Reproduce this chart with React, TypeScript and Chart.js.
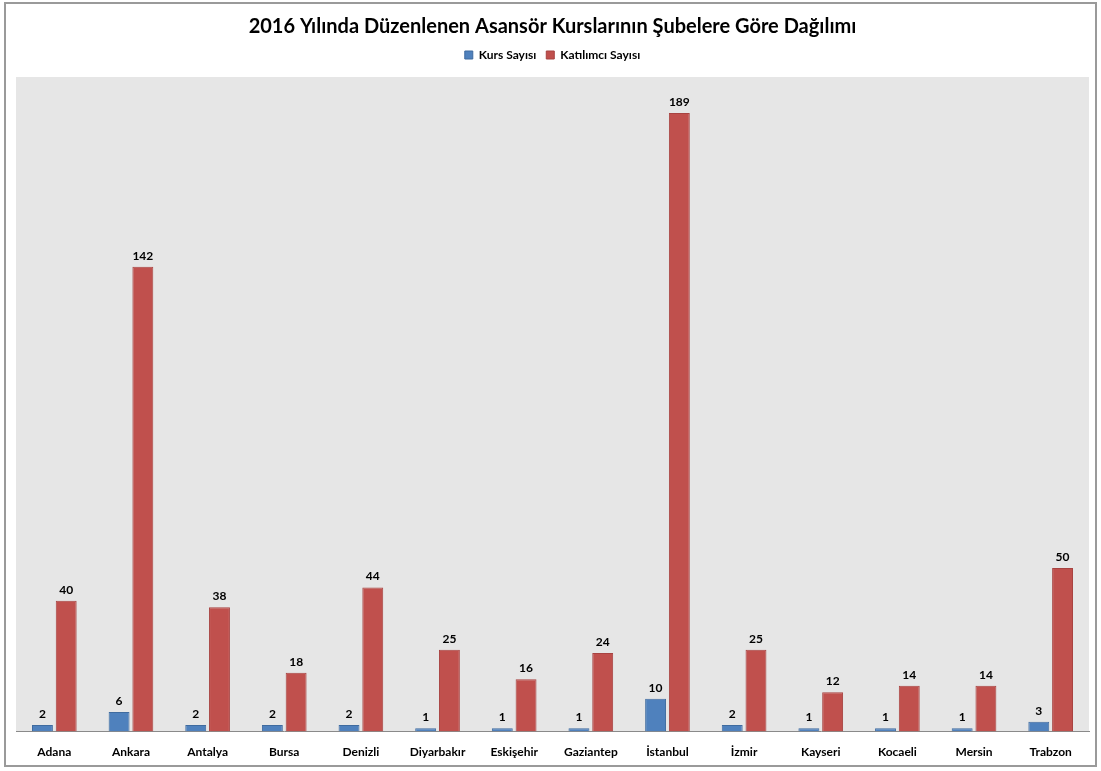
import React, { useEffect, useRef } from "react";
import { Chart, registerables } from "chart.js";

Chart.register(...registerables);

const title = "2016 Yılında Düzenlenen Asansör Kurslarının Şubelere Göre Dağılımı";
const categories = [
  "Adana", "Ankara", "Antalya", "Bursa", "Denizli", "Diyarbakır", "Eskişehir",
  "Gaziantep", "İstanbul", "İzmir", "Kayseri", "Kocaeli", "Mersin", "Trabzon",
];
const seriesNames = ["Kurs Sayısı", "Katılımcı Sayısı"];
const kursSayisi = [2, 6, 2, 2, 2, 1, 1, 1, 10, 2, 1, 1, 1, 3];
const katilimciSayisi = [40, 142, 38, 18, 44, 25, 16, 24, 189, 25, 12, 14, 14, 50];
const yMax = 200;

const FONT = "Lato, 'Open Sans', sans-serif";

const plotBg = {
  id: "plotBg",
  beforeDraw(chart: any) {
    const { ctx, chartArea } = chart;
    ctx.save();
    ctx.fillStyle = "#e6e6e6";
    ctx.fillRect(chartArea.left, chartArea.top, chartArea.right - chartArea.left, chartArea.bottom - chartArea.top);
    ctx.restore();
  },
};

const legendSpace = {
  id: "legendSpace",
  beforeInit(chart: any) {
    const lg = chart.legend;
    if (!lg) return;
    const origFit = lg.fit;
    lg.fit = function () {
      origFit.call(this);
      this.height += 6;
    };
  },
};

const valueLabels = {
  id: "valueLabels",
  afterDatasetsDraw(chart: any) {
    const { ctx } = chart;
    ctx.save();
    ctx.font = `bold 12px ${FONT}`;
    ctx.fillStyle = "#000";
    ctx.textAlign = "center";
    ctx.textBaseline = "bottom";
    chart.data.datasets.forEach((ds: any, i: number) => {
      const meta = chart.getDatasetMeta(i);
      meta.data.forEach((bar: any, j: number) => {
        ctx.fillText(String(ds.data[j]), bar.x, bar.y - 5);
      });
    });
    ctx.restore();
  },
};

export default function App() {
  const ref = useRef<HTMLCanvasElement>(null);
  useEffect(() => {
    document.body.style.margin = "0";
    const chart = new Chart(ref.current!, {
      type: "bar",
      data: {
        labels: categories,
        datasets: [
          {
            label: seriesNames[0],
            data: kursSayisi,
            backgroundColor: "#4f81bd",
            borderColor: "#3f6b9f",
            borderWidth: 1,
            categoryPercentage: 0.62,
            barPercentage: 0.88,
          },
          {
            label: seriesNames[1],
            data: katilimciSayisi,
            backgroundColor: "#c0504d",
            borderColor: "#a84341",
            borderWidth: 1,
            categoryPercentage: 0.62,
            barPercentage: 0.88,
          },
        ],
      },
      options: {
        animation: false,
        responsive: false,
        devicePixelRatio: 1,
        layout: { padding: { left: 16, right: 12, top: 0, bottom: 7 } },
        plugins: {
          title: {
            display: true,
            text: title,
            color: "#000",
            font: { family: FONT, size: 20, weight: "bold" },
            padding: { top: 15, bottom: 0 },
          },
          legend: {
            display: true,
            position: "top",
            labels: {
              color: "#000",
              font: { family: FONT, size: 12, weight: "bold" },
              boxWidth: 8,
              boxHeight: 8,
              padding: 10,
            },
          },
          tooltip: { enabled: false },
        },
        scales: {
          x: {
            grid: { display: false },
            border: { display: true, color: "#8a8a8a", width: 1 },
            ticks: {
              color: "#000",
              font: { family: FONT, size: 12, weight: "bold" },
              padding: 5,
              maxRotation: 0,
            },
          },
          y: {
            display: false,
            min: 0,
            max: yMax,
          },
        },
      },
      plugins: [legendSpace, plotBg, valueLabels],
    });
    return () => chart.destroy();
  }, []);
  return (
    <div style={{ position: "relative", width: 1101, height: 771, background: "#fff" }}>
      <canvas ref={ref} width={1101} height={771} style={{ position: "absolute", left: 0, top: 0 }} />
      <div
        style={{
          position: "absolute",
          left: 4,
          top: 2,
          width: 1093,
          height: 765,
          border: "2px solid #9a9a9a",
          boxSizing: "border-box",
          pointerEvents: "none",
        }}
      />
    </div>
  );
}
